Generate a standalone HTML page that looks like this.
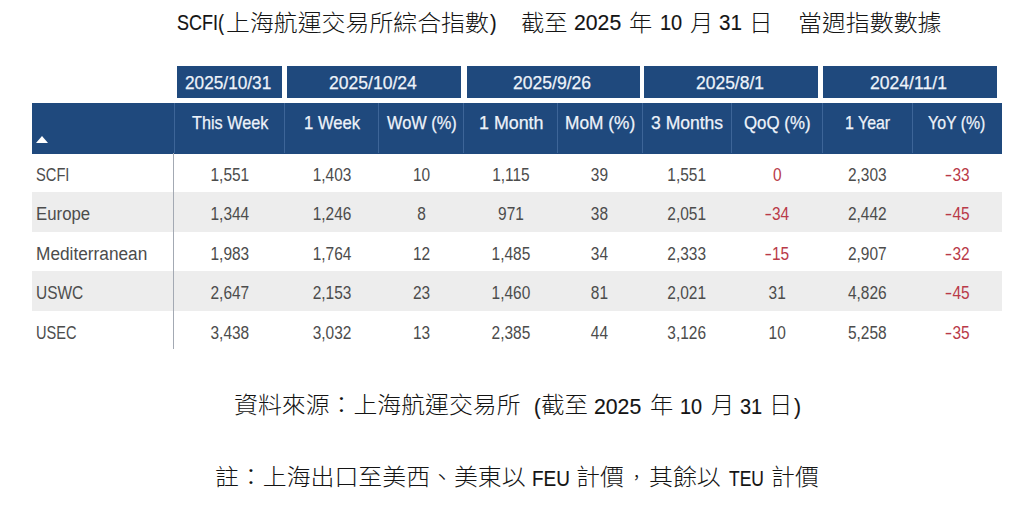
<!DOCTYPE html>
<html lang="zh-Hant"><head><meta charset="utf-8"><title>SCFI</title>
<style>
html,body{margin:0;padding:0;background:#fff;}
body{width:1024px;height:512px;position:relative;overflow:hidden;font-family:"Liberation Sans","Noto Sans CJK TC",sans-serif;}
.abs{position:absolute;white-space:nowrap;}
.sg{position:absolute;white-space:nowrap;color:#141414;transform-origin:0 50%;}
.cj{font-family:"Liberation Sans","Noto Sans CJK TC",sans-serif;font-size:24px;line-height:24px;font-weight:300;}
.la{font-family:"Liberation Sans",sans-serif;font-size:22.5px;line-height:22.5px;-webkit-text-stroke:0.15px #141414;}
.box{position:absolute;top:65.8px;height:31.8px;background:#1f497d;}
.hrow{position:absolute;left:31.8px;top:103.2px;width:970.2px;height:50.4px;background:#1f497d;}
.ht{position:absolute;white-space:nowrap;color:#eef3fa;-webkit-text-stroke:0.25px #eef3fa;transform-origin:0 0;font-family:"Liberation Sans",sans-serif;}
.sep{position:absolute;top:103.2px;height:50.2px;width:1px;background:#3d6598;}
.row{position:absolute;left:31.5px;width:970.5px;}
.g{background:#ededed;}
.lab{position:absolute;white-space:nowrap;color:#4c4c4c;transform-origin:0 0;font-family:"Liberation Sans",sans-serif;font-size:18.3px;line-height:18.3px;}
.c{position:absolute;color:#4c4c4c;text-align:center;white-space:nowrap;font-family:"Liberation Sans",sans-serif;font-size:18.3px;line-height:18.3px;transform:scale(0.8455,1.04);transform-origin:50% 0;}
.r{color:#b93a48;}
.hy{display:inline-block;transform:scaleX(1.45);transform-origin:100% 50%;margin-left:2px;}
</style></head><body>
<!-- title -->
<div class="sg la" style="left:176.80px;top:12.30px;transform:scaleX(0.8000);">SCFI(</div>
<div class="sg cj" style="left:226.00px;top:10.50px;transform:scale(0.9958,0.94);">上海航運交易所綜合指數</div>
<div class="sg la" style="left:489.90px;top:12.30px;transform:scaleX(0.8833);">)</div>
<div class="sg cj" style="left:521.13px;top:10.50px;transform:scale(0.9700,0.94);">截至</div>
<div class="sg la" style="left:574.26px;top:12.30px;transform:scaleX(0.9437);">2025</div>
<div class="sg cj" style="left:629.23px;top:10.50px;transform:scale(0.9700,0.94);">年</div>
<div class="sg la" style="left:659.73px;top:12.30px;transform:scaleX(0.8864);">10</div>
<div class="sg cj" style="left:690.43px;top:10.50px;transform:scale(0.9700,0.94);">月</div>
<div class="sg la" style="left:719.38px;top:12.30px;transform:scaleX(0.9174);">31</div>
<div class="sg cj" style="left:749.38px;top:10.50px;transform:scale(0.9813,0.94);">日</div>
<div class="sg cj" style="left:797.51px;top:10.50px;transform:scale(0.9965,0.94);">當週指數數據</div>
<!-- src -->
<div class="sg cj" style="left:233.60px;top:393.20px;transform:scale(0.9951,0.94);">資料來源：上海航運交易所</div>
<div class="sg la" style="left:533.52px;top:395.80px;transform:scaleX(0.8833);">(</div>
<div class="sg cj" style="left:540.62px;top:393.20px;transform:scale(0.9783,0.94);">截至</div>
<div class="sg la" style="left:594.36px;top:395.80px;transform:scaleX(0.9438);">2025</div>
<div class="sg cj" style="left:649.63px;top:393.20px;transform:scale(0.9700,0.94);">年</div>
<div class="sg la" style="left:680.44px;top:395.80px;transform:scaleX(0.8818);">10</div>
<div class="sg cj" style="left:710.63px;top:393.20px;transform:scale(0.9700,0.94);">月</div>
<div class="sg la" style="left:739.71px;top:395.80px;transform:scaleX(0.8870);">31</div>
<div class="sg cj" style="left:768.92px;top:393.20px;transform:scale(0.9700,0.94);">日</div>
<div class="sg la" style="left:793.75px;top:395.80px;transform:scaleX(0.9417);">)</div>
<!-- note -->
<div class="sg cj" style="left:215.25px;top:465.10px;transform:scale(0.9956,0.94);">註：上海出口至美西、美東以</div>
<div class="sg la" style="left:532.42px;top:467.60px;transform:scaleX(0.8415);">FEU</div>
<div class="sg cj" style="left:576.30px;top:465.10px;transform:scale(0.9978,0.94);">計價</div>
<div class="sg cj" style="left:629.00px;top:470.15px;font-size:15px;line-height:15px;font-weight:400;">，</div>
<div class="sg cj" style="left:649.00px;top:465.10px;transform:scale(0.9971,0.94);">其餘以</div>
<div class="sg la" style="left:729.00px;top:467.60px;transform:scaleX(0.7744);">TEU</div>
<div class="sg cj" style="left:770.91px;top:465.10px;transform:scale(0.9956,0.94);">計價</div>
<!-- table header -->
<div class="box" style="left:176.6px;width:105.4px;"></div><div class="ht" style="left:184.97px;top:73.80px;font-size:18.5px;line-height:18.5px;transform:scale(0.9319,1.0);">2025/10/31</div>
<div class="box" style="left:287.0px;width:174.0px;"></div><div class="ht" style="left:329.25px;top:73.80px;font-size:18.5px;line-height:18.5px;transform:scale(0.9484,1.0);">2025/10/24</div>
<div class="box" style="left:466.5px;width:173.2px;"></div><div class="ht" style="left:513.05px;top:73.80px;font-size:18.5px;line-height:18.5px;transform:scale(0.9494,1.0);">2025/9/26</div>
<div class="box" style="left:644.0px;width:173.9px;"></div><div class="ht" style="left:695.56px;top:73.80px;font-size:18.5px;line-height:18.5px;transform:scale(0.9443,1.0);">2025/8/1</div>
<div class="box" style="left:822.9px;width:174.0px;"></div><div class="ht" style="left:870.25px;top:73.80px;font-size:18.5px;line-height:18.5px;transform:scale(0.9506,1.0);">2024/11/1</div>
<div class="hrow"></div>
<div class="abs" style="left:35.9px;top:136.4px;width:0;height:0;border-left:6.2px solid transparent;border-right:6.2px solid transparent;border-bottom:7.2px solid #fff;"></div>
<div class="sep" style="left:174.3px;"></div><div class="ht" style="left:191.60px;top:114.30px;font-size:18.5px;line-height:18.5px;transform:scale(0.8770,1.0);">This Week</div>
<div class="sep" style="left:284.0px;"></div><div class="ht" style="left:303.80px;top:114.30px;font-size:18.5px;line-height:18.5px;transform:scale(0.9000,1.0);">1 Week</div>
<div class="sep" style="left:378.0px;"></div><div class="ht" style="left:386.80px;top:114.30px;font-size:18.5px;line-height:18.5px;transform:scale(0.8859,1.0);">WoW (%)</div>
<div class="sep" style="left:463.0px;"></div><div class="ht" style="left:479.04px;top:114.30px;font-size:18.5px;line-height:18.5px;transform:scale(0.9646,1.0);">1 Month</div>
<div class="sep" style="left:556.9px;"></div><div class="ht" style="left:565.36px;top:114.30px;font-size:18.5px;line-height:18.5px;transform:scale(0.9356,1.0);">MoM (%)</div>
<div class="sep" style="left:641.7px;"></div><div class="ht" style="left:650.65px;top:114.30px;font-size:18.5px;line-height:18.5px;transform:scale(0.9480,1.0);">3 Months</div>
<div class="sep" style="left:731.1px;"></div><div class="ht" style="left:743.89px;top:114.30px;font-size:18.5px;line-height:18.5px;transform:scale(0.9113,1.0);">QoQ (%)</div>
<div class="sep" style="left:821.5px;"></div><div class="ht" style="left:844.94px;top:114.30px;font-size:18.5px;line-height:18.5px;transform:scale(0.8608,1.0);">1 Year</div>
<div class="sep" style="left:912.1px;"></div><div class="ht" style="left:928.24px;top:114.30px;font-size:18.5px;line-height:18.5px;transform:scale(0.8585,1.0);">YoY (%)</div>
<!-- rows -->
<div class="row" style="top:153.4px;height:38.6px;"></div>
<div class="lab" style="left:36.20px;top:164.80px;font-size:18.3px;line-height:18.3px;transform:scale(0.8026,1.04);">SCFI</div>
<div class="c" style="top:164.80px;left:174.8px;width:109.7px;">1,551</div><div class="c" style="top:164.80px;left:284.5px;width:94.0px;">1,403</div><div class="c" style="top:164.80px;left:378.5px;width:85.0px;">10</div><div class="c" style="top:164.80px;left:463.5px;width:93.9px;">1,115</div><div class="c" style="top:164.80px;left:557.4px;width:84.8px;">39</div><div class="c" style="top:164.80px;left:642.2px;width:89.4px;">1,551</div><div class="c r" style="top:164.80px;left:731.6px;width:90.4px;">0</div><div class="c" style="top:164.80px;left:822.0px;width:90.6px;">2,303</div><div class="c r" style="top:164.80px;left:912.6px;width:89.4px;"><span class="hy">-</span>33</div>
<div class="row g" style="top:192.0px;height:39.5px;"></div>
<div class="lab" style="left:36.08px;top:203.80px;font-size:18.3px;line-height:18.3px;transform:scale(0.9193,1.04);">Europe</div>
<div class="c" style="top:203.80px;left:174.8px;width:109.7px;">1,344</div><div class="c" style="top:203.80px;left:284.5px;width:94.0px;">1,246</div><div class="c" style="top:203.80px;left:378.5px;width:85.0px;">8</div><div class="c" style="top:203.80px;left:463.5px;width:93.9px;">971</div><div class="c" style="top:203.80px;left:557.4px;width:84.8px;">38</div><div class="c" style="top:203.80px;left:642.2px;width:89.4px;">2,051</div><div class="c r" style="top:203.80px;left:731.6px;width:90.4px;"><span class="hy">-</span>34</div><div class="c" style="top:203.80px;left:822.0px;width:90.6px;">2,442</div><div class="c r" style="top:203.80px;left:912.6px;width:89.4px;"><span class="hy">-</span>45</div>
<div class="row" style="top:231.5px;height:39.5px;"></div>
<div class="lab" style="left:36.06px;top:243.60px;font-size:18.3px;line-height:18.3px;transform:scale(0.9440,1.04);">Mediterranean</div>
<div class="c" style="top:243.60px;left:174.8px;width:109.7px;">1,983</div><div class="c" style="top:243.60px;left:284.5px;width:94.0px;">1,764</div><div class="c" style="top:243.60px;left:378.5px;width:85.0px;">12</div><div class="c" style="top:243.60px;left:463.5px;width:93.9px;">1,485</div><div class="c" style="top:243.60px;left:557.4px;width:84.8px;">34</div><div class="c" style="top:243.60px;left:642.2px;width:89.4px;">2,333</div><div class="c r" style="top:243.60px;left:731.6px;width:90.4px;"><span class="hy">-</span>15</div><div class="c" style="top:243.60px;left:822.0px;width:90.6px;">2,907</div><div class="c r" style="top:243.60px;left:912.6px;width:89.4px;"><span class="hy">-</span>32</div>
<div class="row g" style="top:271.0px;height:40.2px;"></div>
<div class="lab" style="left:36.15px;top:283.40px;font-size:18.3px;line-height:18.3px;transform:scale(0.8463,1.04);">USWC</div>
<div class="c" style="top:283.40px;left:174.8px;width:109.7px;">2,647</div><div class="c" style="top:283.40px;left:284.5px;width:94.0px;">2,153</div><div class="c" style="top:283.40px;left:378.5px;width:85.0px;">23</div><div class="c" style="top:283.40px;left:463.5px;width:93.9px;">1,460</div><div class="c" style="top:283.40px;left:557.4px;width:84.8px;">81</div><div class="c" style="top:283.40px;left:642.2px;width:89.4px;">2,021</div><div class="c" style="top:283.40px;left:731.6px;width:90.4px;">31</div><div class="c" style="top:283.40px;left:822.0px;width:90.6px;">4,826</div><div class="c r" style="top:283.40px;left:912.6px;width:89.4px;"><span class="hy">-</span>45</div>
<div class="row" style="top:311.2px;height:38.8px;"></div>
<div class="lab" style="left:36.20px;top:322.70px;font-size:18.3px;line-height:18.3px;transform:scale(0.7980,1.04);">USEC</div>
<div class="c" style="top:322.70px;left:174.8px;width:109.7px;">3,438</div><div class="c" style="top:322.70px;left:284.5px;width:94.0px;">3,032</div><div class="c" style="top:322.70px;left:378.5px;width:85.0px;">13</div><div class="c" style="top:322.70px;left:463.5px;width:93.9px;">2,385</div><div class="c" style="top:322.70px;left:557.4px;width:84.8px;">44</div><div class="c" style="top:322.70px;left:642.2px;width:89.4px;">3,126</div><div class="c" style="top:322.70px;left:731.6px;width:90.4px;">10</div><div class="c" style="top:322.70px;left:822.0px;width:90.6px;">5,258</div><div class="c r" style="top:322.70px;left:912.6px;width:89.4px;"><span class="hy">-</span>35</div>
<div class="abs" style="left:173.2px;top:153.4px;width:1px;height:195.2px;background:#a3a9b3;"></div>
</body></html>
